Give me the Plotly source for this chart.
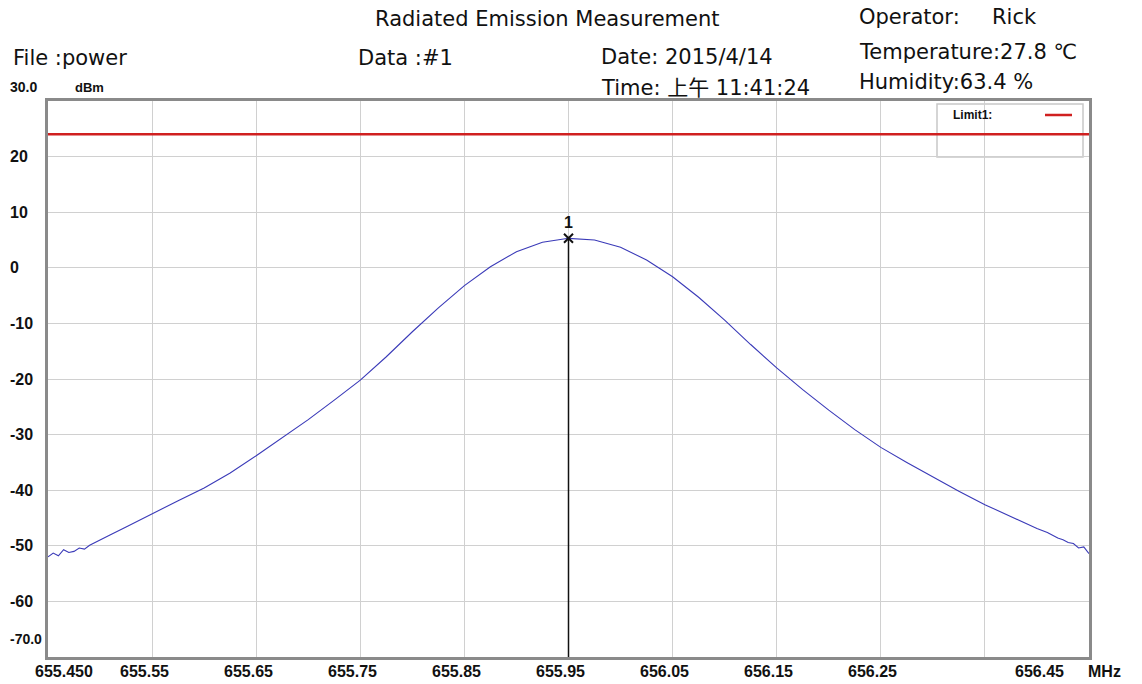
import plotly.graph_objects as go

# ---------------- data ----------------
freq_mhz = [
    655.450, 655.455, 655.460, 655.465, 655.470, 655.475, 655.480, 655.485,
    655.490, 655.495, 655.500, 655.510, 655.525, 655.550, 655.575, 655.600,
    655.625, 655.650, 655.675, 655.700, 655.725, 655.750, 655.775, 655.800,
    655.825, 655.850, 655.875, 655.900, 655.925, 655.950, 655.975, 656.000,
    656.025, 656.050, 656.075, 656.100, 656.125, 656.150, 656.175, 656.200,
    656.225, 656.250, 656.275, 656.300, 656.325, 656.350, 656.375, 656.400,
    656.410, 656.420, 656.425, 656.430, 656.435, 656.440, 656.445, 656.450,
]
level_dbm = [
    -52.0, -51.3, -51.8, -50.7, -51.2, -51.0, -50.4, -50.6,
    -49.9, -49.4, -48.9, -48.0, -46.6, -44.2, -41.9, -39.6,
    -36.9, -33.8, -30.6, -27.3, -23.8, -20.2, -16.0, -11.5,
    -7.2, -3.2, 0.2, 2.9, 4.6, 5.3, 5.0, 3.7,
    1.4, -1.6, -5.3, -9.4, -13.8, -18.0, -21.9, -25.6,
    -29.1, -32.3, -35.0, -37.6, -40.2, -42.6, -44.8, -46.9,
    -47.6, -48.6, -48.9, -49.4, -49.6, -50.4, -50.2, -51.4,
]
limit_dbm = 24.0
marker_freq = 655.95
marker_level = 5.3
marker_label = "1"

x_range = [655.45, 656.45]
y_range = [-70.0, 30.0]
x_tick_vals = [655.45, 655.55, 655.65, 655.75, 655.85, 655.95,
               656.05, 656.15, 656.25, 656.45]
x_tick_text = ["655.450", "655.55", "655.65", "655.75", "655.85", "655.95",
               "656.05", "656.15", "656.25", "656.45"]
y_tick_vals = [30, 20, 10, 0, -10, -20, -30, -40, -50, -60, -70]
y_tick_text = ["30.0", "20", "10", "0", "-10", "-20", "-30", "-40", "-50", "-60", "-70.0"]

# ---------------- layout geometry (pixels) ----------------
W, H = 1142, 684
L, R, T, B = 48, 53, 101, 27
PW, PH = W - L - R, H - T - B


def px(x):
    return (x - L) / PW


def py(y):
    return (H - B - y) / PH


HEAD = "DejaVu Sans, Noto Sans CJK SC, sans-serif"
TICK = "Liberation Sans, Arial, sans-serif"

fig = go.Figure()

fig.add_trace(go.Scatter(
    x=freq_mhz, y=level_dbm, mode="lines",
    line=dict(color="#3a3ab8", width=1.1), hoverinfo="skip", showlegend=False))

fig.add_trace(go.Scatter(
    x=x_range, y=[limit_dbm, limit_dbm], mode="lines",
    line=dict(color="#d02020", width=2.5), hoverinfo="skip", showlegend=False))

fig.add_trace(go.Scatter(
    x=[marker_freq, marker_freq], y=[marker_level, y_range[0]], mode="lines",
    line=dict(color="#111111", width=1.5), hoverinfo="skip", showlegend=False))

fig.add_trace(go.Scatter(
    x=[marker_freq], y=[marker_level], mode="markers+text",
    marker=dict(symbol="x-thin", size=9, line=dict(color="#111111", width=2)),
    text=["<b>%s</b>" % marker_label], textposition="top center",
    textfont=dict(family=TICK, size=16, color="#111111"),
    hoverinfo="skip", showlegend=False))

ann = []


def head(text, x, y, size=21):
    ann.append(dict(text=text, xref="paper", yref="paper", x=px(x), y=py(y),
                    xanchor="left", yanchor="middle", showarrow=False,
                    font=dict(family=HEAD, size=size, color="#111111")))


head("Radiated Emission Measurement", 373, 19)
head("Operator:", 857, 17)
head("Rick", 990, 17)
head("File :power", 11, 58)
head("Data :#1", 356, 58)
head("Date: 2015/4/14", 599, 57)
head("Temperature:27.8 ℃", 857, 52)
head("Time: 上午 11:41:24", 599, 88)
head("Humidity:63.4 %", 857, 82)

# y tick labels
for v, t in zip(y_tick_vals, y_tick_text):
    ys = 0
    if v == y_range[1]:
        ys = 14
    if v == y_range[0]:
        ys = 18
    ann.append(dict(text="<b>%s</b>" % t, xref="paper", yref="y", x=px(8), y=v,
                    yshift=ys, xanchor="left", yanchor="middle", showarrow=False,
                    font=dict(family=TICK, size=16 if v not in (30, -70) else 14,
                              color="#111111")))
ann.append(dict(text="<b>dBm</b>", xref="paper", yref="y", x=px(73), y=y_range[1],
                yshift=14, xanchor="left", yanchor="middle", showarrow=False,
                font=dict(family=TICK, size=13, color="#111111")))

# x tick labels
for v, t in zip(x_tick_vals, x_tick_text):
    xs = -8
    if t == "655.450":
        xs = 16
    if t == "656.45":
        xs = -50
    ann.append(dict(text="<b>%s</b>" % t, xref="x", yref="paper", x=v, y=py(671),
                    xshift=xs, xanchor="center", yanchor="middle", showarrow=False,
                    font=dict(family=TICK, size=16, color="#111111")))
ann.append(dict(text="<b>MHz</b>", xref="paper", yref="paper", x=px(1104), y=py(671),
                xanchor="center", yanchor="middle", showarrow=False,
                font=dict(family=TICK, size=16, color="#111111")))

# legend box
ann.append(dict(text="<b>Limit1:</b>", xref="paper", yref="paper", x=px(951), y=py(115),
                xanchor="left", yanchor="middle", showarrow=False,
                font=dict(family=TICK, size=12, color="#111111")))

shapes = [
    dict(type="rect", xref="paper", yref="paper", x0=px(937), x1=px(1083),
         y0=py(157), y1=py(104), line=dict(color="#c8c8c8", width=1.5),
         fillcolor="white", layer="between"),
    dict(type="line", xref="paper", yref="paper", x0=px(1045), x1=px(1072),
         y0=py(115), y1=py(115), line=dict(color="#d02020", width=2.5)),
]

fig.update_layout(
    width=W, height=H,
    margin=dict(l=L, r=R, t=T, b=B, pad=0),
    paper_bgcolor="white", plot_bgcolor="white",
    annotations=ann, shapes=shapes, showlegend=False,
    xaxis=dict(range=x_range, tick0=655.45, dtick=0.1, showticklabels=False,
               ticks="", showgrid=True, gridcolor="#d0d0d0", gridwidth=1,
               zeroline=False, showline=True, mirror=True,
               linecolor="#8a8a8a", linewidth=2.5, fixedrange=True),
    yaxis=dict(range=y_range, tick0=-70, dtick=10, showticklabels=False,
               ticks="", showgrid=True, gridcolor="#d0d0d0", gridwidth=1,
               zeroline=False, showline=True, mirror=True,
               linecolor="#8a8a8a", linewidth=2.5, fixedrange=True),
)

fig.write_html("out.html", config={"displayModeBar": False},
               post_script="document.body.style.margin='0';document.body.style.overflow='hidden';")
